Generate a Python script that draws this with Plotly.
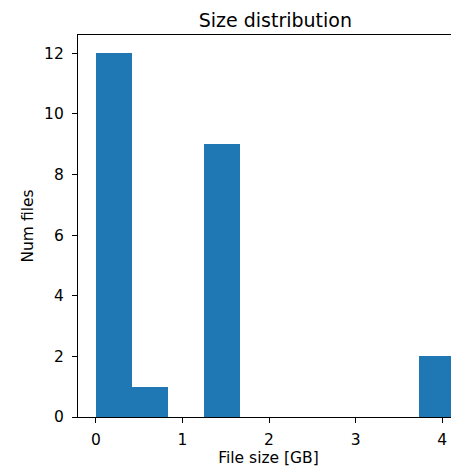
import plotly.graph_objects as go

bin_edges = [0.0, 0.415, 0.83, 1.245, 1.66, 2.075, 2.49, 2.905, 3.32, 3.735, 4.15]
counts = [12, 1, 0, 9, 0, 0, 0, 0, 0, 2]
x_ticks = [0, 1, 2, 3, 4]
y_ticks = [0, 2, 4, 6, 8, 10, 12]

centers = [(a + b) / 2 for a, b in zip(bin_edges[:-1], bin_edges[1:])]
widths = [b - a for a, b in zip(bin_edges[:-1], bin_edges[1:])]

fig = go.Figure(go.Bar(x=centers, y=counts, width=widths,
                       marker=dict(color="#1f77b4", line=dict(width=0))))

# page body has an 8px margin, so the figure is offset by 8px
OFF = 8
W, H = 459 - OFF, 469 - OFF
L, T, B = 78 - OFF, 35 - OFF, 52
font = "DejaVu Sans"
fs = 15.5
fig.update_layout(
    width=W, height=H,
    margin=dict(l=L, r=0, t=T, b=B),
    plot_bgcolor="white", paper_bgcolor="white",
    bargap=0, showlegend=False,
    font=dict(family=font, size=fs, color="black"),
    title=dict(text="Size distribution", x=0.518, xref="paper", xanchor="center",
               y=1 - (20 - OFF) / H, yref="container", yanchor="middle",
               font=dict(family=font, size=19, color="black")),
    xaxis=dict(range=[-0.2075, 4.195], tickvals=x_ticks, ticks="outside", ticklen=5, tickwidth=1.2,
               tickcolor="black", showline=True, linecolor="black", linewidth=1.2, mirror=True,
               showgrid=False, zeroline=False, ticklabelstandoff=3,
               title=dict(text="File size [GB]", standoff=3, font=dict(size=fs))),
    yaxis=dict(range=[0, 12.6], tickvals=y_ticks, ticks="outside", ticklen=5, tickwidth=1.2,
               tickcolor="black", showline=True, linecolor="black", linewidth=1.2,
               showgrid=False, zeroline=False, ticklabelstandoff=5,
               title=dict(text="Num files", standoff=6, font=dict(size=fs))),
)
fig.write_html("out.html")
